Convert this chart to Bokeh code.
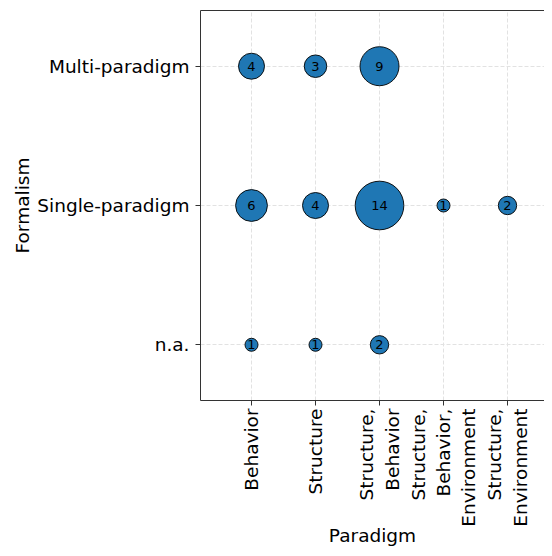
import numpy as np
from bokeh.plotting import figure
from bokeh.models import ColumnDataSource, Range1d, FixedTicker, LinearAxis
from bokeh.embed import file_html
from bokeh.resources import INLINE

paradigms = ["Behavior", "Structure", "Structure,\nBehavior",
             "Structure,\nBehavior,\nEnvironment", "Structure,\nEnvironment"]
formalisms = ["n.a.", "Single-paradigm", "Multi-paradigm"]

# counts per (formalism, paradigm)
multi_paradigms = ["Behavior", "Structure", "Structure,\nBehavior"]
multi_counts = [4, 3, 9]
single_paradigms = ["Behavior", "Structure", "Structure,\nBehavior",
                    "Structure,\nBehavior,\nEnvironment", "Structure,\nEnvironment"]
single_counts = [6, 4, 14, 1, 2]
na_paradigms = ["Behavior", "Structure", "Structure,\nBehavior"]
na_counts = [1, 1, 2]

xs = multi_paradigms + single_paradigms + na_paradigms
ys = (["Multi-paradigm"] * len(multi_paradigms) + ["Single-paradigm"] * len(single_paradigms)
      + ["n.a."] * len(na_paradigms))
counts = multi_counts + single_counts + na_counts

src = ColumnDataSource(dict(
    x=[paradigms.index(v) for v in xs],
    y=[formalisms.index(v) for v in ys],
    size=[13.0 * np.sqrt(c) for c in counts],
    label=[str(c) for c in counts],
))

FONT = "DejaVu Sans"

p = figure(width=544, height=548, output_backend="svg", toolbar_location=None,
           x_range=Range1d(-0.797, len(paradigms) - 1 + 0.578),
           y_range=Range1d(-0.4, len(formalisms) - 1 + 0.4),
           min_border_left=200, min_border_right=0, min_border_top=10, min_border_bottom=140)

p.outline_line_color = None
p.background_fill_color = "white"
p.border_fill_color = "white"

p.scatter(x="x", y="y", size="size", source=src, fill_color="#1f77b4",
          line_color="black", line_width=0.9)
p.text(x="x", y="y", text="label", source=src, text_align="center",
       text_baseline="middle", text_font_size="13px", text_color="black",
       text_font={"value": FONT})

xax = p.below[0]
yax = p.left[0]
xax.ticker = FixedTicker(ticks=list(range(len(paradigms))))
xax.major_label_overrides = {i: name for i, name in enumerate(paradigms)}
yax.ticker = FixedTicker(ticks=list(range(len(formalisms))))
yax.major_label_overrides = {i: name for i, name in enumerate(formalisms)}

for ax in [xax, yax]:
    ax.axis_line_color = "#333333"
    ax.axis_line_width = 1
    ax.major_tick_line_color = "#333333"
    ax.major_tick_out = 5
    ax.major_tick_in = 0
    ax.minor_tick_line_color = None
    ax.major_label_text_font = FONT
    ax.major_label_text_font_size = "18.5px"
    ax.major_label_text_color = "black"
    ax.axis_label_text_font = FONT
    ax.axis_label_text_font_size = "18.5px"
    ax.axis_label_text_font_style = "normal"
    ax.axis_label_text_color = "black"

xax.axis_label = "Paradigm"
yax.axis_label = "Formalism"
xax.major_label_orientation = np.pi / 2
xax.major_label_standoff = 3
yax.major_label_standoff = 6
xax.axis_label_standoff = -5
yax.axis_label_standoff = 1

top = LinearAxis(ticker=FixedTicker(ticks=[]), major_tick_line_color=None,
                 minor_tick_line_color=None, major_tick_out=0,
                 major_label_standoff=0, axis_line_color="#333333")
p.add_layout(top, "above")

p.xgrid.ticker = xax.ticker
p.ygrid.ticker = yax.ticker
p.grid.grid_line_color = "#e2e2e2"
p.grid.grid_line_dash = "4 2"
p.grid.grid_line_width = 1

open("out.html", "w").write(file_html(p, INLINE))
